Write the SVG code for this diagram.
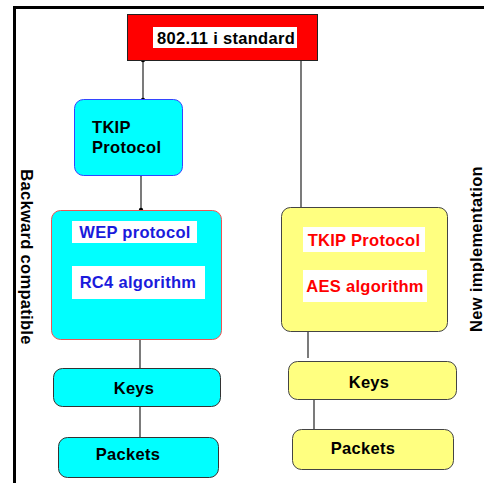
<svg xmlns="http://www.w3.org/2000/svg" width="484" height="483" viewBox="0 0 484 483">
<style>
text{font-family:"Liberation Sans",Arial,sans-serif;font-weight:bold;font-size:16.5px;letter-spacing:0.3px}
.cy{fill:#00FFFF;stroke:#333}
.ye{fill:#FFFF80;stroke:#444}
.lbl{fill:#fff}
.c{stroke:#333;stroke-width:1.3;fill:none}
.d{fill:#000}
</style>
<rect width="484" height="483" fill="#fff"/>
<path d="M14.5 483V7.5H484" fill="none" stroke="#000" stroke-width="3"/>
<text transform="translate(21,257) rotate(90)" text-anchor="middle" font-size="16">Backward compatible</text>
<text transform="translate(482,249) rotate(-90)" text-anchor="middle" font-size="16">New implementation</text>
<g id="connectors">
<path class="c" d="M143 60V99"/>
<circle class="d" cx="143" cy="60" r="2.2"/><circle class="d" cx="143" cy="100" r="2.2"/>
<path class="c" d="M141 174V210"/>
<circle class="d" cx="141" cy="174" r="2.2"/><circle class="d" cx="141" cy="210" r="2.2"/>
<path class="c" d="M301 60V207" stroke="#777"/>
<path class="c" d="M140 339V368"/>
<path class="c" d="M140 406V437"/>
<path class="c" d="M308 331V358"/>
<path class="c" d="M314 400V436"/>
</g>
<g id="standard">
<rect x="127.5" y="14.5" width="190" height="46" fill="#FF0000" stroke="#222"/>
<rect class="lbl" x="153" y="27" width="144" height="21"/>
<text x="226" y="44" text-anchor="middle">802.11 i standard</text>
</g>
<g id="tkip-left">
<rect x="74.5" y="99.5" width="108" height="76" rx="9" fill="#00FFFF" stroke="#3344ff"/>
<text x="92" y="133">TKIP</text>
<text x="92" y="153">Protocol</text>
</g>
<g id="wep">
<rect x="51.5" y="210.5" width="170" height="129" rx="9" fill="#00FFFF" stroke="#ee5555"/>
<rect class="lbl" x="72" y="221" width="125" height="22"/>
<text x="135" y="238" text-anchor="middle" fill="#1a1adc">WEP protocol</text>
<rect class="lbl" x="72" y="266" width="133" height="33"/>
<text x="138" y="288" text-anchor="middle" fill="#1a1adc">RC4 algorithm</text>
</g>
<g id="keys-left">
<rect class="cy" x="53.5" y="368.5" width="167" height="38" rx="9"/>
<text x="134" y="394" text-anchor="middle">Keys</text>
</g>
<g id="packets-left">
<rect class="cy" x="58.5" y="437.5" width="160" height="40" rx="9"/>
<text x="128" y="460" text-anchor="middle">Packets</text>
</g>
<g id="new">
<rect class="ye" x="281.5" y="207.5" width="166" height="124" rx="9"/>
<rect class="lbl" x="303" y="227" width="122" height="25"/>
<text x="364" y="246" text-anchor="middle" fill="#FF0000">TKIP Protocol</text>
<rect class="lbl" x="303" y="270" width="124" height="32"/>
<text x="365" y="292" text-anchor="middle" fill="#FF0000">AES algorithm</text>
</g>
<g id="keys-right">
<rect class="ye" x="288.5" y="361.5" width="168" height="38" rx="9"/>
<text x="369" y="388" text-anchor="middle">Keys</text>
</g>
<g id="packets-right">
<rect class="ye" x="292.5" y="429.5" width="161" height="40" rx="9"/>
<text x="363" y="454" text-anchor="middle">Packets</text>
</g>
</svg>
